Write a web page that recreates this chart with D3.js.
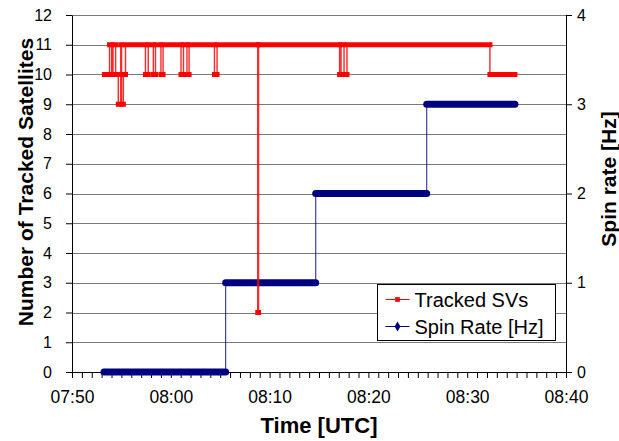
<!DOCTYPE html>
<html>
<head>
<meta charset="utf-8">
<script src="https://cdn.jsdelivr.net/npm/d3@7"></script>
<style>
  body { margin: 0; background: #fff; }
  text { font-family: "Liberation Sans", Arial, sans-serif; fill: #000; }
</style>
</head>
<body>
<div id="chart"></div>
<script>
// step data: each value holds until the next time stamp
const svTimes = [
  "07:53:17", "07:53:48", "07:54:01", "07:54:09", "07:54:25", "07:54:41", "07:54:56",
  "07:55:01", "07:55:12", "07:55:25", "07:57:26", "07:57:43", "07:58:14", "07:58:27",
  "07:59:00", "07:59:13", "08:01:02", "08:01:17", "08:01:38", "08:01:51", "08:04:25",
  "08:04:41", "08:08:48", "08:08:53", "08:17:05", "08:17:14", "08:17:32", "08:17:50",
  "08:32:18", "08:34:50"
];
const svCounts = [
  10, 11, 10, 11, 10, 9, 11,
  9, 10, 11, 10, 11, 10, 11,
  10, 11, 10, 11, 10, 11, 10,
  11, 2, 11, 10, 11, 10, 11,
  10, 10
];

const spinTimes = ["07:53:14", "08:05:33", "08:14:40", "08:25:54", "08:34:50"];
const spinRates = [0, 1, 2, 3, 3];

const timeLabels = ["07:50", "08:00", "08:10", "08:20", "08:30", "08:40"];
const countTicks = [0, 1, 2, 3, 4, 5, 6, 7, 8, 9, 10, 11, 12];
const rateTicks = [0, 1, 2, 3, 4];

const W = 619, H = 441;
const plotL = 72, plotR = 566, plotT = 15, plotB = 372;

const parseT = d3.timeParse("%H:%M:%S");
const parseHM = d3.timeParse("%H:%M");
const fmtHM = d3.timeFormat("%H:%M");

const svg = d3.select("#chart")
  .append("svg")
  .attr("width", W)
  .attr("height", H);

svg.append("rect").attr("width", W).attr("height", H).attr("fill", "#fff");

const x = d3.scaleTime()
  .domain([parseHM(timeLabels[0]), parseHM(timeLabels[timeLabels.length - 1])])
  .range([plotL, plotR]);
const yL = d3.scaleLinear().domain([0, 12]).range([plotB, plotT]);
const yR = d3.scaleLinear().domain([0, 4]).range([plotB, plotT]);

// gridlines
svg.append("g")
  .selectAll("line")
  .data(countTicks.slice(1))
  .join("line")
    .attr("x1", plotL)
    .attr("x2", plotR)
    .attr("y1", d => Math.round(yL(d)) + 0.5)
    .attr("y2", d => Math.round(yL(d)) + 0.5)
    .attr("stroke", "#7a7a7a")
    .attr("stroke-width", 1);

// axes
const labelTimes = timeLabels.map(parseHM);
const xAxis = d3.axisBottom(x)
  .ticks(d3.timeSecond.every(150))
  .tickFormat(d => labelTimes.some(t => +t === +d) ? fmtHM(d) : "")
  .tickSize(6)
  .tickSizeOuter(0)
  .tickPadding(13);

const gx = svg.append("g")
  .attr("transform", `translate(0,${plotB})`)
  .call(xAxis);
gx.selectAll("text").style("font-size", "17.5px");

const gl = svg.append("g")
  .attr("transform", `translate(${plotL},0)`)
  .call(d3.axisLeft(yL).tickValues(countTicks).tickSize(6).tickSizeOuter(0).tickPadding(14));
gl.selectAll("text").style("font-size", "16px");

const gr = svg.append("g")
  .attr("transform", `translate(${plotR},0)`)
  .call(d3.axisRight(yR).tickValues(rateTicks).tickFormat(d3.format("d"))
    .tickSize(6).tickSizeOuter(0).tickPadding(5));
gr.selectAll("text").style("font-size", "16px");

svg.selectAll(".domain, .tick line").attr("stroke", "#000");

// series
function drawSeries(times, vals, yScale, opts) {
  const pts = times.map((t, i) => ({ t: parseT(t), v: vals[i] }));
  const runs = pts.slice(0, -1).map((p, i) => ({ t0: p.t, t1: pts[i + 1].t, v: p.v }));
  const g = svg.append("g");

  g.append("path")
    .datum(pts)
    .attr("fill", "none")
    .attr("stroke", opts.color)
    .attr("stroke-width", opts.thin)
    .attr("stroke-opacity", opts.thinOpacity)
    .attr("d", d3.line()
      .x(d => x(d.t))
      .y(d => yScale(d.v))
      .curve(d3.curveStepAfter));

  g.selectAll("line")
    .data(runs)
    .join("line")
      .attr("x1", d => x(d.t0))
      .attr("x2", d => x(d.t1))
      .attr("y1", d => yScale(d.v))
      .attr("y2", d => yScale(d.v))
      .attr("stroke", opts.color)
      .attr("stroke-width", opts.thick)
      .attr("stroke-linecap", opts.cap);
}

drawSeries(spinTimes, spinRates, yR, { color: "#000080", thin: 1.2, thinOpacity: 0.75, thick: 7, cap: "round" });
drawSeries(svTimes, svCounts, yL, { color: "#ff0000", thin: 1.4, thinOpacity: 0.85, thick: 5, cap: "square" });

// axis titles
svg.append("text")
  .attr("x", (plotL + plotR) / 2)
  .attr("y", 433)
  .attr("text-anchor", "middle")
  .style("font-size", "22px")
  .style("font-weight", "bold")
  .text("Time [UTC]");

svg.append("text")
  .attr("transform", "translate(33,182) rotate(-90)")
  .attr("text-anchor", "middle")
  .style("font-size", "21px")
  .style("font-weight", "bold")
  .text("Number of Tracked Satellites");

svg.append("text")
  .attr("transform", "translate(616,179) rotate(-90)")
  .attr("text-anchor", "middle")
  .style("font-size", "21px")
  .style("font-weight", "bold")
  .text("Spin rate [Hz]");

// legend
const legendItems = [
  { name: "Tracked SVs", color: "#ff0000", symbol: d3.symbolSquare, size: 22 },
  { name: "Spin Rate [Hz]", color: "#000080", symbol: d3.symbolDiamond, size: 30 }
];

const lg = svg.append("g").attr("transform", "translate(377.5,284.5)");
lg.append("rect")
  .attr("width", 178)
  .attr("height", 56)
  .attr("fill", "#fff")
  .attr("stroke", "#000");

const li = lg.selectAll("g")
  .data(legendItems)
  .join("g")
    .attr("transform", (d, i) => `translate(0,${15 + i * 27})`);
li.append("line")
  .attr("x1", 8).attr("x2", 32)
  .attr("stroke", d => d.color)
  .attr("stroke-width", 1);
li.append("path")
  .attr("transform", "translate(20,0)")
  .attr("d", d => d3.symbol(d.symbol, d.size)())
  .attr("fill", d => d.color);
li.append("text")
  .attr("x", 37)
  .attr("dy", "0.35em")
  .style("font-size", "20px")
  .text(d => d.name);
</script>
</body>
</html>
